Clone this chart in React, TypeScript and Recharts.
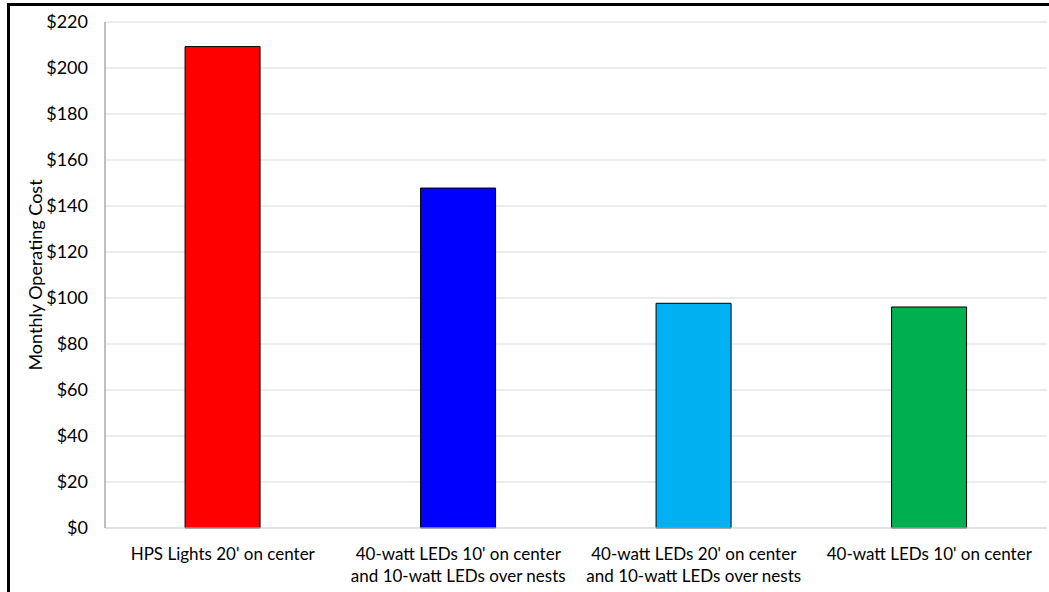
import { BarChart, Bar, XAxis, YAxis, CartesianGrid, Cell } from "recharts";

const categories = [
  "HPS Lights 20' on center",
  "40-watt LEDs 10' on center\nand 10-watt LEDs over nests",
  "40-watt LEDs 20' on center\nand 10-watt LEDs over nests",
  "40-watt LEDs 10' on center",
];
const monthlyCost = [209.3, 147.8, 97.7, 96.1];
const barColors = ["#FF0000", "#0000FF", "#00B0F0", "#00B050"];
const yTicks = [0, 20, 40, 60, 80, 100, 120, 140, 160, 180, 200, 220];

const data = categories.map((name, i) => ({ name, cost: monthlyCost[i] }));

const FONT = "Lato, 'Open Sans', sans-serif";

function CategoryTick({ x, y, payload }: any) {
  const lines = String(payload.value).split("\n");
  return (
    <text x={x} y={y} textAnchor="middle" fill="#000" fontSize={17} fontFamily={FONT}>
      {lines.map((line, i) => (
        <tspan key={i} x={x} dy={i === 0 ? 24 : 22}>
          {line}
        </tspan>
      ))}
    </text>
  );
}

export default function App() {
  return (
    <div
      style={{
        position: "absolute",
        left: 0,
        top: 0,
        width: 1049,
        height: 592,
        background: "#fff",
        overflow: "hidden",
      }}
    >
      <BarChart
        width={1049}
        height={592}
        data={data}
        margin={{ top: 22, right: 2, left: 0, bottom: 0 }}
        barCategoryGap="34%"
      >
        <CartesianGrid vertical={false} stroke="#D9D9D9" strokeWidth={1} />
        <XAxis
          dataKey="name"
          height={64}
          axisLine={{ stroke: "#D9D9D9" }}
          tickLine={false}
          interval={0}
          tick={<CategoryTick />}
        />
        <XAxis
          xAxisId="top"
          orientation="top"
          height={0}
          tick={false}
          tickLine={false}
          axisLine={{ stroke: "#808080" }}
        />
        <YAxis
          width={105}
          domain={[0, 220]}
          ticks={yTicks}
          interval={0}
          axisLine={{ stroke: "#808080" }}
          tickLine={false}
          tickMargin={11}
          tickFormatter={(v: number) => `$${v}`}
          tick={{ fill: "#000", fontSize: 18, fontFamily: FONT }}
          label={{
            value: "Monthly Operating Cost",
            angle: -90,
            position: "insideLeft",
            offset: 36,
            style: { textAnchor: "middle", fill: "#000", fontSize: 18, fontFamily: FONT },
          }}
        />
        <YAxis
          yAxisId="right"
          orientation="right"
          width={0}
          tick={false}
          tickLine={false}
          axisLine={{ stroke: "#808080" }}
        />
        <Bar dataKey="cost" stroke="#000" strokeWidth={1} isAnimationActive={false}>
          {data.map((_, i) => (
            <Cell key={i} fill={barColors[i]} />
          ))}
        </Bar>
      </BarChart>
      <div
        style={{
          position: "absolute",
          left: 7,
          top: 3,
          width: 1100,
          height: 700,
          borderTop: "3px solid #000",
          borderLeft: "3px solid #000",
          pointerEvents: "none",
        }}
      />
    </div>
  );
}
